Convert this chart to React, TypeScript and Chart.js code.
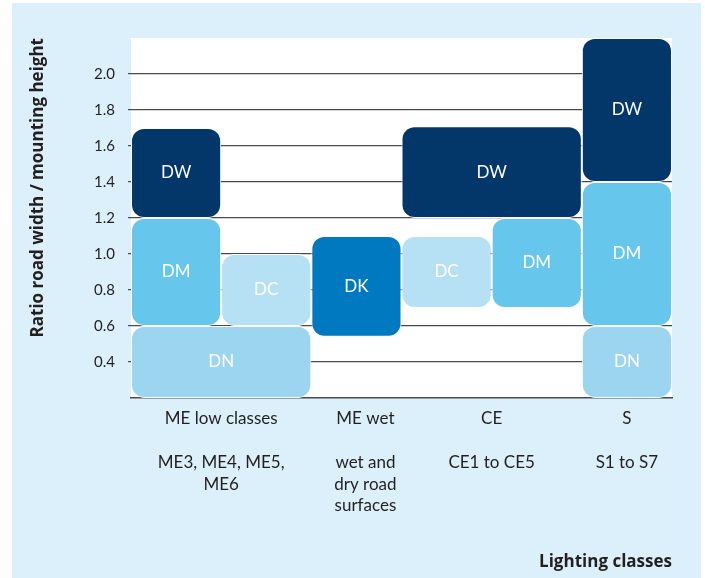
import React, { useEffect, useRef } from 'react';
import { Chart, registerables } from 'chart.js';

Chart.register(...registerables);

// ---- data ----
const GROUP_NAMES = ['ME low classes', 'ME wet', 'CE', 'S'];
const GROUP_DETAILS = [
  ['ME3, ME4, ME5,', 'ME6'],
  ['wet and', 'dry road', 'surfaces'],
  ['CE1 to CE5'],
  ['S1 to S7'],
];
const GROUP_CENTERS = [1, 2.6, 4, 5.5];
const COLUMN_COUNT = 6;

const BOX_LABELS = ['DW', 'DM', 'DC', 'DN', 'DK', 'DW', 'DC', 'DM', 'DW', 'DM', 'DN'];
const BOX_COL_START = [0, 0, 1, 0, 2, 3, 3, 4, 5, 5, 5];
const BOX_COL_SPAN = [1, 1, 1, 2, 1, 2, 1, 1, 1, 1, 1];
const BOX_LOW = [1.2, 0.6, 0.6, 0.2, 0.54, 1.2, 0.7, 0.7, 1.4, 0.6, 0.2];
const BOX_HIGH = [1.7, 1.2, 1.0, 0.6, 1.1, 1.71, 1.1, 1.2, 2.2, 1.4, 0.6];

const Y_MIN = 0.2;
const Y_MAX = 2.2;
const Y_TICKS = [0.4, 0.6, 0.8, 1.0, 1.2, 1.4, 1.6, 1.8, 2.0];

const Y_TITLE = 'Ratio road width / mounting height';
const X_TITLE = 'Lighting classes';

// ---- styles ----
const COLORS: Record<string, string> = {
  DW: '#03376a',
  DM: '#67c6ec',
  DC: '#b6e0f3',
  DN: '#9bd5f0',
  DK: '#0079c1',
};
const FONT = 'Lato, "Open Sans", sans-serif';
const TITLE_FONT = '"Open Sans", Lato, sans-serif';
const TEXT = '#231f20';
const GRID = '#4a4a4a';

export default function App() {
  const ref = useRef<HTMLCanvasElement | null>(null);

  useEffect(() => {
    document.body.style.margin = '0';
    const canvas = ref.current;
    if (!canvas) return;

    const centers = BOX_COL_START.map((s, i) => s + BOX_COL_SPAN[i] / 2);
    const uniq = Array.from(new Set(centers)).sort((a, b) => a - b);
    let minStep = Infinity;
    for (let i = 1; i < uniq.length; i++) minStep = Math.min(minStep, uniq[i] - uniq[i - 1]);

    const datasets = BOX_LABELS.map((lab, i) => ({
      label: lab,
      data: [{ x: centers[i], y: [BOX_LOW[i], BOX_HIGH[i]] }],
      backgroundColor: COLORS[lab],
      borderColor: '#ffffff',
      borderWidth: 1,
      borderRadius: 13,
      borderSkipped: false,
      grouped: false,
      categoryPercentage: 1,
      barPercentage: BOX_COL_SPAN[i] / minStep,
    }));

    const plotBg = {
      id: 'plotBg',
      beforeDraw(chart: any) {
        const { ctx, chartArea } = chart;
        ctx.save();
        ctx.fillStyle = '#ffffff';
        ctx.fillRect(chartArea.left, chartArea.top, chartArea.right - chartArea.left, chartArea.bottom - chartArea.top);
        ctx.restore();
      },
    };

    const boxLabels = {
      id: 'boxLabels',
      afterDatasetsDraw(chart: any) {
        const { ctx } = chart;
        ctx.save();
        ctx.fillStyle = '#ffffff';
        ctx.font = `17px ${FONT}`;
        ctx.textAlign = 'center';
        ctx.textBaseline = 'middle';
        BOX_LABELS.forEach((lab, i) => {
          const el = chart.getDatasetMeta(i).data[0];
          if (!el) return;
          const p = el.getProps(['x', 'y', 'base'], true);
          ctx.fillText(lab, p.x, (p.y + p.base) / 2);
        });
        ctx.restore();
      },
    };

    const chart = new Chart(canvas, {
      type: 'bar',
      data: { datasets: datasets as any },
      options: {
        animation: false,
        responsive: true,
        maintainAspectRatio: false,
        layout: { padding: { left: 28, top: 38, right: 33, bottom: 0 } },
        plugins: {
          legend: { display: false },
          tooltip: { enabled: false },
        },
        scales: {
          x: {
            type: 'linear',
            min: 0,
            max: COLUMN_COUNT,
            offset: false,
            grid: { display: false },
            border: { display: true, color: GRID, width: 1.5 },
            afterBuildTicks: (scale: any) => {
              scale.ticks = GROUP_CENTERS.map((v) => ({ value: v }));
            },
            afterFit: (scale: any) => {
              scale.height = 180;
            },
            ticks: {
              autoSkip: false,
              maxRotation: 0,
              minRotation: 0,
              padding: 2,
              color: TEXT,
              font: { family: FONT, size: 17, lineHeight: 1.28 },
              callback: (_v: any, idx: number) => [GROUP_NAMES[idx], '', ...GROUP_DETAILS[idx]],
            },
            title: {
              display: true,
              text: X_TITLE,
              align: 'end',
              color: TEXT,
              font: { family: TITLE_FONT, size: 17, weight: 'bold' },
              padding: { top: 0, bottom: 6 },
            },
          },
          y: {
            type: 'linear',
            min: Y_MIN,
            max: Y_MAX,
            afterBuildTicks: (scale: any) => {
              scale.ticks = Y_TICKS.map((v) => ({ value: v }));
            },
            afterFit: (scale: any) => {
              scale.width = 103;
            },
            grid: { color: GRID, lineWidth: 1.2, tickLength: 3, drawTicks: true },
            border: { display: false },
            ticks: {
              padding: 13,
              color: TEXT,
              font: { family: FONT, size: 15 },
              callback: (v: any) => Number(v).toFixed(1),
            },
            title: {
              display: true,
              text: Y_TITLE,
              align: 'end',
              color: TEXT,
              font: { family: TITLE_FONT, size: 17, weight: 'bold' },
              padding: { top: 0, bottom: 0 },
            },
          },
        },
      },
      plugins: [plotBg, boxLabels],
    } as any);

    return () => chart.destroy();
  }, []);

  return (
    <div style={{ position: 'relative', width: 705, height: 578, background: '#ffffff' }}>
      <div style={{ position: 'absolute', left: 12, top: 3, right: 4, bottom: 0, background: '#dbf0fb' }} />
      <div style={{ position: 'absolute', left: 0, top: 0, width: 705, height: 578 }}>
        <canvas ref={ref} />
      </div>
    </div>
  );
}
